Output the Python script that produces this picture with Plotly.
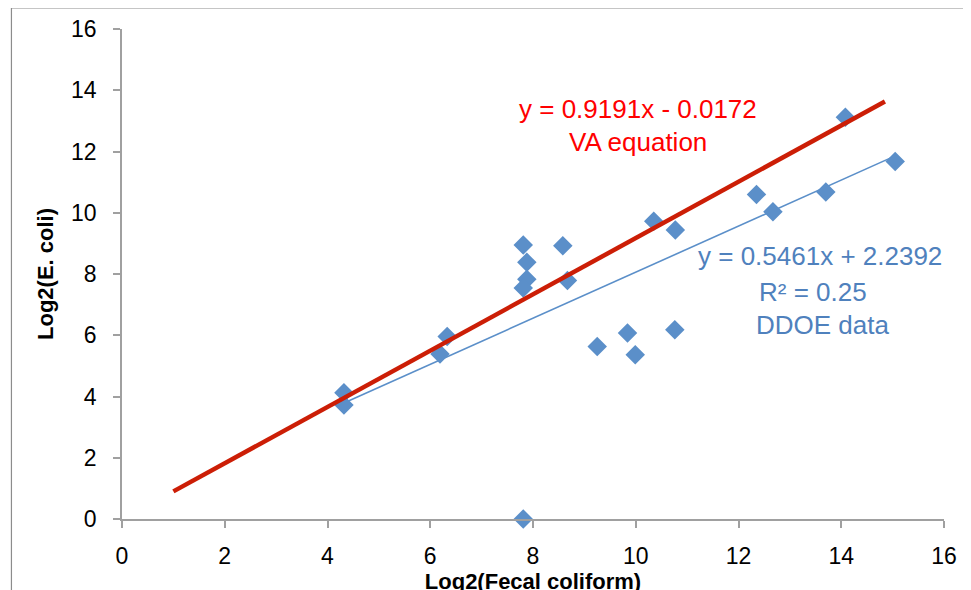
import numpy as np
import plotly.graph_objects as go

# Data
fecal_log2 = [4.32, 4.32, 6.19, 6.33, 7.81, 7.88, 7.88, 7.81, 7.81, 8.58, 8.67,
              9.25, 9.84, 9.99, 10.76, 10.35, 10.77, 12.35, 12.67, 13.70, 14.08, 15.05]
ecoli_log2 = [4.12, 3.72, 5.39, 5.96, 8.95, 8.38, 7.83, 7.54, 0.00, 8.92, 7.79,
              5.63, 6.07, 5.36, 6.18, 9.72, 9.44, 10.60, 10.03, 10.68, 13.12, 11.67]

va_slope = 0.9191
va_intercept = -0.0172
va_x_range = [1.0, 14.85]

va_label = ["y = 0.9191x - 0.0172", "VA equation"]
ddoe_label = ["y = 0.5461x + 2.2392", "R² = 0.25", "DDOE data"]

x_ticks = [0, 2, 4, 6, 8, 10, 12, 14, 16]
y_ticks = [0, 2, 4, 6, 8, 10, 12, 14, 16]

FONT = "Liberation Sans, Arial, sans-serif"
BLUE = "#5B8FC9"
RED_LINE = "#CC1E06"
RED_TEXT = "#FF0000"
BLUE_TEXT = "#4F81BD"
AXIS_GRAY = "#A0A0A0"

xs = np.array(fecal_log2)
ys = np.array(ecoli_log2)
slope, intercept = np.polyfit(xs, ys, 1)
trend_x = np.array([xs.min(), xs.max()])
trend_y = slope * trend_x + intercept

va_x = np.array(va_x_range)
va_y = va_slope * va_x + va_intercept

fig = go.Figure()
fig.add_trace(go.Scatter(
    x=trend_x, y=trend_y, mode="lines",
    line=dict(color=BLUE, width=1.6), hoverinfo="skip", showlegend=False))
fig.add_trace(go.Scatter(
    x=xs, y=ys, mode="markers",
    marker=dict(symbol="diamond", size=15, color=BLUE, line=dict(width=0)),
    showlegend=False, cliponaxis=False))
fig.add_trace(go.Scatter(
    x=va_x, y=va_y, mode="lines",
    line=dict(color=RED_LINE, width=4.5), hoverinfo="skip", showlegend=False))

annotations = []
va_pos = [(10.04, 13.39), (10.04, 12.31)]
for txt, (ax, ay) in zip(va_label, va_pos):
    annotations.append(dict(x=ax, y=ay, xref="x", yref="y", text=txt, showarrow=False,
                            font=dict(family=FONT, size=26, color=RED_TEXT),
                            xanchor="center", yanchor="middle"))
dd_pos = [(13.59, 8.59), (13.45, 7.41), (13.63, 6.33)]
for txt, (ax, ay) in zip(ddoe_label, dd_pos):
    annotations.append(dict(x=ax, y=ay, xref="x", yref="y", text=txt, showarrow=False,
                            font=dict(family=FONT, size=26, color=BLUE_TEXT),
                            xanchor="center", yanchor="middle"))

# the page body adds an 8px offset; margins compensate for it
fig.update_layout(
    width=971, height=590,
    margin=dict(l=114, r=35, t=21, b=79),
    paper_bgcolor="white", plot_bgcolor="white",
    font=dict(family=FONT, size=22, color="#000000"),
    annotations=annotations,
    shapes=[dict(type="rect", xref="paper", yref="paper",
                 x0=-0.1345, x1=1.05, y0=-0.2, y1=1.043,
                 line=dict(color="#8C8C8C", width=1.2), fillcolor="rgba(0,0,0,0)",
                 layer="below")],
    xaxis=dict(range=[0, 16], tickvals=x_ticks, showgrid=False, zeroline=False,
               automargin=False,
               showline=True, linecolor=AXIS_GRAY, linewidth=1.5,
               ticks="outside", ticklen=7, tickcolor=AXIS_GRAY, tickwidth=1.5,
               ticklabelstandoff=9,
               tickfont=dict(family=FONT, size=23, color="#000"),
               title=dict(text="<b>Log2(Fecal coliform)</b>", standoff=0,
                          font=dict(family=FONT, size=22, color="#000"))),
    yaxis=dict(range=[0, 16], tickvals=y_ticks, showgrid=False, zeroline=False,
               automargin=False,
               showline=True, linecolor=AXIS_GRAY, linewidth=1.5,
               ticks="outside", ticklen=7, tickcolor=AXIS_GRAY, tickwidth=1.5,
               ticklabelstandoff=12,
               tickfont=dict(family=FONT, size=23, color="#000"),
               title=dict(text="<b>Log2(E. coli)</b>", standoff=11,
                          font=dict(family=FONT, size=22, color="#000"))),
)

fig.write_html("out.html")
